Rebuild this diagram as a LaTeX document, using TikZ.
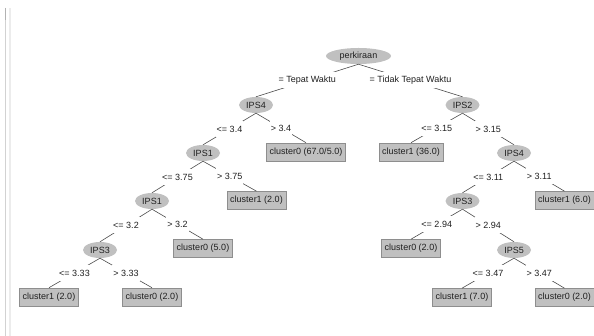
\documentclass[tikz,border=0pt]{standalone}
\usepackage{fontspec}
\setmainfont{Liberation Sans}
\usetikzlibrary{shapes.geometric}
\definecolor{nodegray}{HTML}{C0C0C0}
\definecolor{boxborder}{HTML}{8E8E8E}
\definecolor{txt}{HTML}{202020}
\begin{document}
\begin{tikzpicture}[x=1pt,y=-1pt,
  every node/.style={font=\fontsize{9}{10}\selectfont, text=txt},
  inner/.style={ellipse, fill=nodegray, minimum width=34pt, minimum height=16pt, inner sep=0pt},
  leaf/.style={rectangle, fill=nodegray, draw=boxborder, line width=0.6pt, minimum height=18pt, inner xsep=3.3pt, inner ysep=0pt},
  edge/.style={draw=black!70, line width=0.6pt},
  lbl/.style={fill=white, inner xsep=1pt, inner ysep=0pt, minimum height=16pt}]
\useasboundingbox (0,0) rectangle (594,336);
% left panel border
\draw[gray!35, line width=1pt] (5.5,8) -- (5.5,336);
\draw[gray!15, line width=2pt] (10,8) -- (10,336);
\draw[gray!60, line width=1pt] (5.5,8) -- (5.5,20);

% inner nodes
\node[inner, minimum width=65pt] (root) at (358.5,56) {perkiraan};
\node[inner] (ipsfourA) at (256,105) {IPS4};
\node[inner] (ipstwo) at (462.5,105) {IPS2};
\node[inner] (ipsoneA) at (203,153) {IPS1};
\node[inner] (ipsfourB) at (514,153) {IPS4};
\node[inner] (ipsoneB) at (152,201) {IPS1};
\node[inner] (ipsthreeB) at (462.5,201) {IPS3};
\node[inner] (ipsthreeA) at (100,250) {IPS3};
\node[inner] (ipsfive) at (514,250) {IPS5};

% leaves
\node[leaf] (lA) at (306,152) {cluster0 (67.0/5.0)};
\node[leaf] (lB) at (411,152) {cluster1 (36.0)};
\node[leaf] (lC) at (256.5,200.5) {cluster1 (2.0)};
\node[leaf] (lD) at (564.5,200.5) {cluster1 (6.0)};
\node[leaf] (lE) at (203,248.5) {cluster0 (5.0)};
\node[leaf] (lF) at (411,248.5) {cluster0 (2.0)};
\node[leaf] (lG) at (49,297) {cluster1 (2.0)};
\node[leaf] (lH) at (152,297) {cluster0 (2.0)};
\node[leaf] (lI) at (462,297.5) {cluster1 (7.0)};
\node[leaf] (lJ) at (564.5,297.5) {cluster0 (2.0)};

% edges
\draw[edge] (root.south) -- node[lbl] {= Tepat Waktu} (ipsfourA.north);
\draw[edge] (root.south) -- node[lbl] {= Tidak Tepat Waktu} (ipstwo.north);
\draw[edge] (ipsfourA.south) -- node[lbl] {<= 3.4} (ipsoneA.north);
\draw[edge] (ipsfourA.south) -- node[lbl] {> 3.4} (lA.north);
\draw[edge] (ipstwo.south) -- node[lbl] {<= 3.15} (lB.north);
\draw[edge] (ipstwo.south) -- node[lbl] {> 3.15} (ipsfourB.north);
\draw[edge] (ipsoneA.south) -- node[lbl] {<= 3.75} (ipsoneB.north);
\draw[edge] (ipsoneA.south) -- node[lbl] {> 3.75} (lC.north);
\draw[edge] (ipsfourB.south) -- node[lbl] {<= 3.11} (ipsthreeB.north);
\draw[edge] (ipsfourB.south) -- node[lbl] {> 3.11} (lD.north);
\draw[edge] (ipsoneB.south) -- node[lbl] {<= 3.2} (ipsthreeA.north);
\draw[edge] (ipsoneB.south) -- node[lbl] {> 3.2} (lE.north);
\draw[edge] (ipsthreeB.south) -- node[lbl] {<= 2.94} (lF.north);
\draw[edge] (ipsthreeB.south) -- node[lbl] {> 2.94} (ipsfive.north);
\draw[edge] (ipsthreeA.south) -- node[lbl] {<= 3.33} (lG.north);
\draw[edge] (ipsthreeA.south) -- node[lbl] {> 3.33} (lH.north);
\draw[edge] (ipsfive.south) -- node[lbl] {<= 3.47} (lI.north);
\draw[edge] (ipsfive.south) -- node[lbl] {> 3.47} (lJ.north);
\end{tikzpicture}
\end{document}
